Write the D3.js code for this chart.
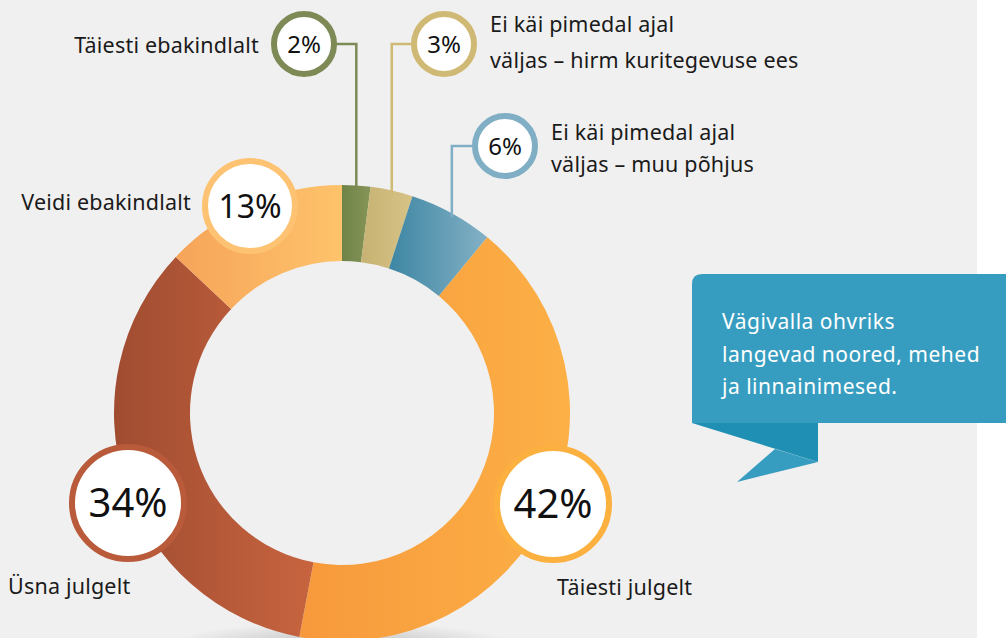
<!DOCTYPE html>
<html><head><meta charset="utf-8">
<script src="https://cdn.jsdelivr.net/npm/d3@7"></script>
<style>
html,body{margin:0;padding:0;background:#fff;}
svg{display:block;font-family:"Noto Sans","Open Sans",sans-serif;}
</style></head><body>
<svg id="c" width="1006" height="638"></svg>
<script>
const categories = ["Täiesti ebakindlalt","Ei käi pimedal ajal väljas – hirm kuritegevuse ees","Ei käi pimedal ajal väljas – muu põhjus","Täiesti julgelt","Üsna julgelt","Veidi ebakindlalt"];
const values = [2,3,6,42,34,13];
const gradStart = ["#6f8448","#c6b272","#3d86a3","#f7993c","#a04c31","#f6a459"];
const gradEnd   = ["#869457","#d8c387","#84b1c5","#fcb046","#c7643f","#fec36b"];
const ringColors = ["#7d8a55","#cfb974","#80aec4","#fbb040","#b95a3b","#fdc372"];
const calloutLines = ["Vägivalla ohvriks","langevad noored, mehed","ja linnainimesed."];

const svg = d3.select("#c");
const defs = svg.append("defs");
svg.append("rect").attr("x",0).attr("y",0).attr("width",977).attr("height",638).attr("fill","#f0f0f0");

// shadow
const sg = defs.append("radialGradient").attr("id","shadow");
sg.append("stop").attr("offset","0%").attr("stop-color","#000").attr("stop-opacity",0.22);
sg.append("stop").attr("offset","100%").attr("stop-color","#000").attr("stop-opacity",0);

const cx = 342, cy = 413, R = 228, r = 152;
svg.append("ellipse").attr("cx",cx).attr("cy",646).attr("rx",175).attr("ry",24).attr("fill","url(#shadow)");

values.forEach((v,i)=>{
  const g = defs.append("linearGradient").attr("id","g"+i).attr("x1","0").attr("x2","1").attr("y1","0").attr("y2","0");
  g.append("stop").attr("offset","0%").attr("stop-color",gradStart[i]);
  g.append("stop").attr("offset","100%").attr("stop-color",gradEnd[i]);
});

const pie = d3.pie().sort(null).value(d=>d);
const arcs = pie(values);
const arc = d3.arc().innerRadius(r).outerRadius(R);
const chart = svg.append("g").attr("transform",`translate(${cx},${cy})`);
chart.selectAll("path").data(arcs).join("path")
  .attr("d",arc).attr("fill",(d,i)=>`url(#g${i})`);

// label layout (annotation positions)
const labelPos = [
  {x:304,y:44,rad:30,fs:24,conn:"right"},
  {x:444,y:44,rad:30,fs:24,conn:"left"},
  {x:505,y:146,rad:30,fs:24,conn:"left"},
  {x:553,y:504,rad:56,fs:40},
  {x:128,y:503,rad:56,fs:40},
  {x:250,y:206,rad:45,fs:32}
];
const fmt = v => v + "%";

// connectors for small segments
[0,1,2].forEach(i=>{
  const a = (arcs[i].startAngle+arcs[i].endAngle)/2;
  const lx = cx + R*Math.sin(a);
  const ly = cy - R*Math.cos(a);
  const p = labelPos[i];
  const sx = p.conn==="right" ? p.x + p.rad : p.x - p.rad;
  svg.append("path").attr("d",`M${sx},${p.y}H${lx}V${ly+4}`)
    .attr("fill","none").attr("stroke",ringColors[i]).attr("stroke-width",2.5);
});

arcs.forEach((d,i)=>{
  const p = labelPos[i];
  svg.append("circle").attr("cx",p.x).attr("cy",p.y).attr("r",p.rad)
    .attr("fill","#fff").attr("stroke",ringColors[i]).attr("stroke-width",6);
  svg.append("text").attr("x",p.x).attr("y",p.y).attr("text-anchor","middle")
    .attr("dy","0.36em").attr("font-size",p.fs).attr("fill","#111").text(fmt(values[i]));
});

// category text
const txt = (x,y,s,anchor)=>svg.append("text").attr("x",x).attr("y",y).attr("font-size",21.5)
  .attr("letter-spacing",0.2).attr("fill","#1a1a1a").attr("text-anchor",anchor||"start").text(s);
txt(259,53,categories[0],"end");
txt(490,32,"Ei käi pimedal ajal");
txt(490,68,"väljas – hirm kuritegevuse ees");
txt(551,140,"Ei käi pimedal ajal");
txt(551,172,"väljas – muu põhjus");
txt(557,595,categories[3]);
txt(8,594,categories[4]);
txt(191,210,categories[5],"end");

// callout
svg.append("path").attr("d","M692,423 L818,423 L818,462 Z").attr("fill","#1f8fb3");
svg.append("path").attr("d","M775,449 L818,462 L737,482 Z").attr("fill","#379dc0");
svg.append("path").attr("d","M702,274 H1006 V423 H692 V284 Q692,274 702,274 Z").attr("fill","#379dc0");
calloutLines.forEach((s,i)=>{
  svg.append("text").attr("x",722).attr("y",329+i*32.5).attr("font-size",21)
    .attr("letter-spacing",0.5).attr("fill","#fff").text(s);
});
</script>
</body></html>
